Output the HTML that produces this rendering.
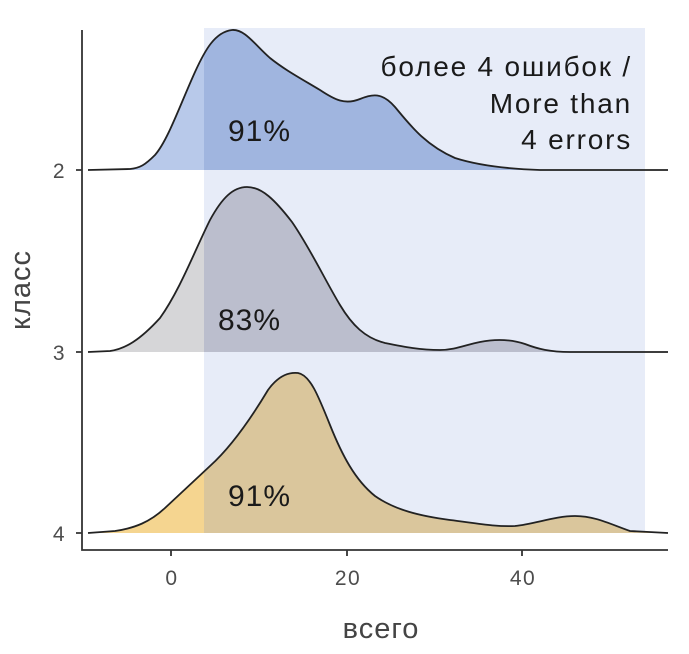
<!DOCTYPE html>
<html><head><meta charset="utf-8"><style>body{margin:0;background:#fff}svg{display:block}</style></head><body>
<svg width="689" height="654" viewBox="0 0 689 654" xmlns="http://www.w3.org/2000/svg" font-family="Liberation Sans, DejaVu Sans, sans-serif">
<defs>
<clipPath id="r"><rect x="204" y="0" width="441" height="654"/></clipPath>
</defs>
<rect x="204" y="28" width="441" height="505" fill="#e7ecf8"/>
<g>
<path d="M88,170 L130,169 C140,168 145,165 155,155 C168,140 180,105 195,72 C205,50 215,32 232,30 C245,29 255,45 270,58 C285,70 300,78 320,90 C335,100 345,105 360,99 C372,94 382,92 395,107 C410,125 425,145 455,158 C480,166 510,169 540,170 L668,170 Z" fill="#b8c9ea"/>
<path d="M88,170 L130,169 C140,168 145,165 155,155 C168,140 180,105 195,72 C205,50 215,32 232,30 C245,29 255,45 270,58 C285,70 300,78 320,90 C335,100 345,105 360,99 C372,94 382,92 395,107 C410,125 425,145 455,158 C480,166 510,169 540,170 L668,170 Z" fill="#a0b5df" clip-path="url(#r)"/>
<path d="M88,170 L130,169 C140,168 145,165 155,155 C168,140 180,105 195,72 C205,50 215,32 232,30 C245,29 255,45 270,58 C285,70 300,78 320,90 C335,100 345,105 360,99 C372,94 382,92 395,107 C410,125 425,145 455,158 C480,166 510,169 540,170 L668,170" fill="none" stroke="#222" stroke-width="1.8"/>
</g>
<g>
<path d="M88,352 L110,351 C125,349 140,340 160,318 C180,290 195,250 210,220 C222,198 233,187 247,187 C262,187 275,200 292,222 C310,248 325,280 340,305 C352,325 365,338 385,343 C405,347 420,350 440,350 C455,350 465,345 480,342 C495,339 510,339 525,344 C538,349 550,352 570,352 L668,352 Z" fill="#d6d6d8"/>
<path d="M88,352 L110,351 C125,349 140,340 160,318 C180,290 195,250 210,220 C222,198 233,187 247,187 C262,187 275,200 292,222 C310,248 325,280 340,305 C352,325 365,338 385,343 C405,347 420,350 440,350 C455,350 465,345 480,342 C495,339 510,339 525,344 C538,349 550,352 570,352 L668,352 Z" fill="#bbbecd" clip-path="url(#r)"/>
<path d="M88,352 L110,351 C125,349 140,340 160,318 C180,290 195,250 210,220 C222,198 233,187 247,187 C262,187 275,200 292,222 C310,248 325,280 340,305 C352,325 365,338 385,343 C405,347 420,350 440,350 C455,350 465,345 480,342 C495,339 510,339 525,344 C538,349 550,352 570,352 L668,352" fill="none" stroke="#222" stroke-width="1.8"/>
</g>
<g>
<path d="M88,533 L115,531 C135,528 150,522 165,508 C180,494 195,480 210,466 C230,448 250,420 268,390 C278,376 288,372 298,373 C310,375 318,395 330,425 C342,455 355,480 375,496 C395,510 420,516 450,520 C475,523 495,527 515,526 C535,524 555,516 575,516 C595,516 610,524 630,531 L668,533 Z" fill="#f5d590"/>
<path d="M88,533 L115,531 C135,528 150,522 165,508 C180,494 195,480 210,466 C230,448 250,420 268,390 C278,376 288,372 298,373 C310,375 318,395 330,425 C342,455 355,480 375,496 C395,510 420,516 450,520 C475,523 495,527 515,526 C535,524 555,516 575,516 C595,516 610,524 630,531 L668,533 Z" fill="#dac69c" clip-path="url(#r)"/>
<path d="M88,533 L115,531 C135,528 150,522 165,508 C180,494 195,480 210,466 C230,448 250,420 268,390 C278,376 288,372 298,373 C310,375 318,395 330,425 C342,455 355,480 375,496 C395,510 420,516 450,520 C475,523 495,527 515,526 C535,524 555,516 575,516 C595,516 610,524 630,531 L668,533" fill="none" stroke="#222" stroke-width="1.8"/>
</g>
<g font-size="30" fill="#1a1a1a" letter-spacing="1">
<text x="228" y="141">91%</text>
<text x="218" y="330">83%</text>
<text x="228" y="506">91%</text>
</g>
<g font-size="28" fill="#1a1a1a" text-anchor="end" letter-spacing="1.8">
<text x="632" y="76">более 4 ошибок /</text>
<text x="632" y="113">More than</text>
<text x="632" y="149">4 errors</text>
</g>
<g stroke="#333" stroke-width="1.8" fill="none">
<path d="M82,30 V550 H668"/>
<path d="M76,170 H82 M76,352 H82 M76,533 H82"/>
<path d="M171,550 V556 M347,550 V556 M522,550 V556"/>
</g>
<g font-size="21" fill="#4d4d4d" letter-spacing="1.5">
<text x="66" y="178" text-anchor="end">2</text>
<text x="66" y="360" text-anchor="end">3</text>
<text x="66" y="541" text-anchor="end">4</text>
<text x="172" y="585" text-anchor="middle">0</text>
<text x="348" y="585" text-anchor="middle">20</text>
<text x="523" y="585" text-anchor="middle">40</text>
</g>
<text x="381" y="638" font-size="29" fill="#444" text-anchor="middle" letter-spacing="1">всего</text>
<text transform="translate(30,290) rotate(-90)" font-size="29" fill="#444" text-anchor="middle" letter-spacing="1">класс</text>
</svg>
</body></html>
